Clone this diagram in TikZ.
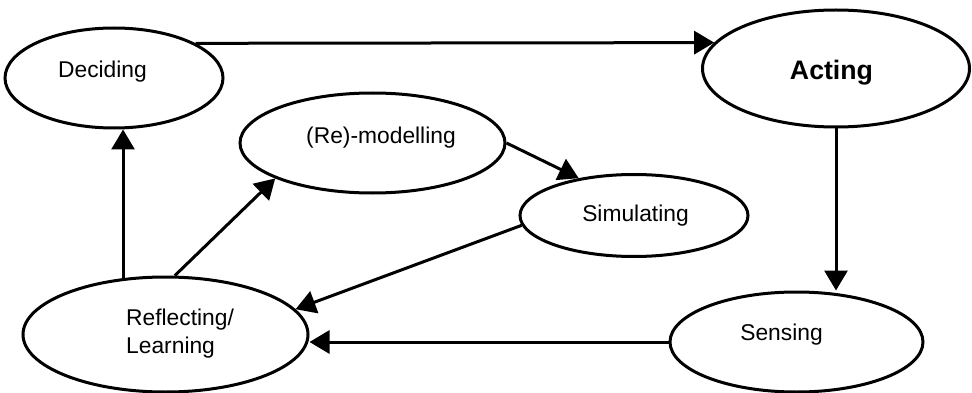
\documentclass[tikz,border=0pt]{standalone}
\usepackage{fontspec}
\setmainfont{Liberation Sans}
\usetikzlibrary{shapes.geometric,arrows.meta}
\begin{document}
\begin{tikzpicture}[x=1pt,y=-1pt,
  oval/.style={ellipse,draw=black,line width=3pt,inner sep=0pt},
  lbl/.style={font=\fontsize{22.8}{28.3}\selectfont,inner sep=0pt,anchor=base},
  arr/.style={line width=3pt,-{Triangle[length=20pt,width=23pt]}}]
\useasboundingbox (0,0) rectangle (972,393);
% ellipses
\node[oval,minimum width=218pt,minimum height=100pt] (deciding) at (114,78) {};
\node[oval,minimum width=267pt,minimum height=117pt] (acting) at (836,68.5) {};
\node[oval,minimum width=265pt,minimum height=100pt] (remodel) at (372.5,143) {};
\node[oval,minimum width=228pt,minimum height=82pt] (simul) at (634,215.5) {};
\node[oval,minimum width=285pt,minimum height=115pt] (reflect) at (165.5,334.5) {};
\node[oval,minimum width=253pt,minimum height=100pt] (sensing) at (796.5,342) {};
% texts
\node[lbl] (decidingT) at (102.5,77.3) {Deciding};
\node[lbl,font=\fontsize{26.7}{32}\selectfont\bfseries] (actingT) at (831.5,79.5) {Acting};
\node[lbl] (remodelT) at (381,144) {(Re)-modelling};
\node[lbl] (simulT) at (635.5,221.7) {Simulating};
\node[lbl] (sensingT) at (781.5,340.7) {Sensing};
\node[lbl,anchor=base west,align=left] (reflectT) at (126,353.3) {Reflecting/\\Learning};
% connectors
\draw[arr] (deciding.23) -- (acting.168);
\draw[arr] (reflect.127) -- (reflect.127 |- deciding.south);
\draw[arr] (reflect.81) -- (remodel.200);
\draw[arr] (remodel.east) -- (simul.146);
\draw[arr] (simul.185) -- (reflect.11);
\draw[arr] (sensing.west) -- (sensing.west -| reflect.east);
\draw[arr] (acting.south) -- (acting.south |- sensing.north);
\end{tikzpicture}
\end{document}
